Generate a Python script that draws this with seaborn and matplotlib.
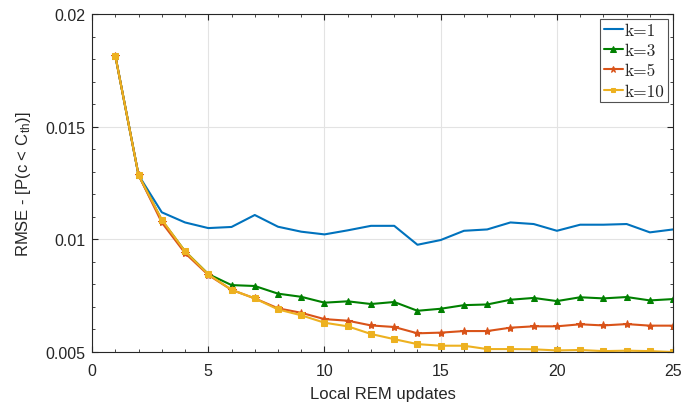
import numpy as np
import pandas as pd
import seaborn as sns
import matplotlib
matplotlib.use("Agg")
import matplotlib.pyplot as plt
from matplotlib.ticker import MultipleLocator

# data
updates = list(range(1, 26))
rmse_k1 = [0.01815, 0.01285, 0.0112, 0.01075, 0.0105, 0.01055, 0.01108, 0.01056, 0.01034, 0.01022,
           0.0104, 0.0106, 0.0106, 0.00976, 0.00997, 0.01038, 0.01044, 0.01075, 0.01068, 0.01038,
           0.01065, 0.01065, 0.01068, 0.01031, 0.01044]
rmse_k3 = [0.01815, 0.01285, 0.01085, 0.00947, 0.00846, 0.00797, 0.00793, 0.00759, 0.00745, 0.00719,
           0.00725, 0.00713, 0.00722, 0.00683, 0.00692, 0.00708, 0.00711, 0.00732, 0.0074, 0.00726,
           0.00743, 0.00738, 0.00744, 0.00729, 0.00735]
rmse_k5 = [0.01815, 0.01285, 0.01075, 0.00939, 0.00842, 0.00776, 0.00738, 0.00694, 0.00674, 0.00646,
           0.00639, 0.00618, 0.00611, 0.00583, 0.00586, 0.00593, 0.00593, 0.00608, 0.00614, 0.00614,
           0.00623, 0.00618, 0.00624, 0.00617, 0.00617]
rmse_k10 = [0.01815, 0.01285, 0.01087, 0.00947, 0.00845, 0.00776, 0.00738, 0.00689, 0.00663, 0.0063,
            0.00614, 0.0058, 0.00557, 0.00535, 0.00528, 0.00528, 0.00513, 0.00513, 0.00512, 0.00507,
            0.00509, 0.00504, 0.00506, 0.00504, 0.005]
labels = ['k=1', 'k=3', 'k=5', 'k=10']

sns.set_style("ticks")
plt.rcParams['font.family'] = ['Liberation Sans', 'DejaVu Sans']
plt.rcParams['mathtext.fontset'] = 'cm'

fig = plt.figure(figsize=(6.82, 4.06), dpi=100)
ax = fig.add_axes([0.135, 0.1305, 0.852, 0.8325])

series = [rmse_k1, rmse_k3, rmse_k5, rmse_k10]
colors = ['#0072BD', '#008000', '#D95319', '#EDB120']
markers = [None, '^', '*', 's']
msizes = [0, 5, 6, 4]
for vals, lab, c, m, ms in zip(series, labels, colors, markers, msizes):
    sns.lineplot(x=updates, y=vals, ax=ax, color=c, marker=m, markersize=ms,
                 markeredgecolor=c, linewidth=1.5, label=lab)

ax.set_xlim(0, 25)
ax.set_ylim(0.005, 0.02)
ax.set_xticks([0, 5, 10, 15, 20, 25])
ax.set_yticks([0.005, 0.01, 0.015, 0.02])
ax.set_yticklabels(['0.005', '0.01', '0.015', '0.02'])
ax.xaxis.set_minor_locator(MultipleLocator(1))
ax.yaxis.set_minor_locator(MultipleLocator(0.001))
ax.tick_params(which='both', direction='in', top=True, right=True, labelsize=11.5, colors='#262626')
ax.tick_params(which='major', length=4)
ax.tick_params(which='minor', length=2.5)
ax.tick_params(axis='x', which='major', pad=8)
ax.tick_params(axis='y', which='major', pad=5)
ax.grid(True, which='major', color='#e3e3e3', linewidth=0.8)
for s in ax.spines.values():
    s.set_color('#262626')
    s.set_linewidth(0.8)

ax.set_xlabel('Local REM updates', fontsize=12, color='#262626', labelpad=6)
ax.set_ylabel(r'RMSE - [P(c < C$_{\mathregular{th}}$)]', fontsize=12, color='#262626', labelpad=9)

leg = ax.legend(loc='upper right', prop={'family': 'cmr10', 'size': 12.5}, frameon=True,
                fancybox=False, edgecolor='#262626', handlelength=1.1, handletextpad=0.1,
                borderpad=0.2, labelspacing=0.28, borderaxespad=0.3, markerscale=0.8)
leg.get_frame().set_linewidth(0.8)

fig.savefig('out.png', dpi=100)
